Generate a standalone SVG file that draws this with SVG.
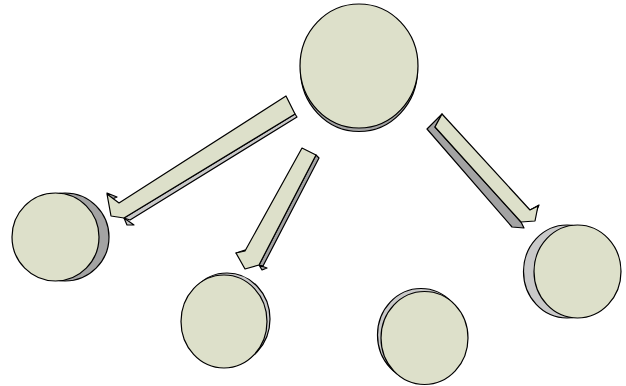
<svg xmlns="http://www.w3.org/2000/svg" width="626" height="386" viewBox="0 0 626 386">
<style>
.face{fill:#dde0ca;stroke:#000;stroke-width:1.2;stroke-linejoin:round}
.sd{stroke:#000;stroke-width:1.2;stroke-linejoin:round}
.g1{fill:#a3a3a3}
.g2{fill:#c9c9c9}
</style>
<rect width="626" height="386" fill="#fff"/>
<g id="node-top">
<ellipse class="sd g1" cx="359" cy="69.5" rx="58.5" ry="62"/>
<ellipse class="face" cx="359" cy="66" rx="59" ry="62"/>
</g>
<g id="node-left">
<ellipse class="sd g1" cx="65" cy="237" rx="44" ry="44"/>
<ellipse class="face" cx="55.5" cy="237" rx="43.5" ry="44"/>
</g>
<g id="node-bottom-left">
<ellipse class="sd g2" cx="227" cy="319" rx="43" ry="46"/>
<ellipse class="face" cx="224" cy="321.5" rx="43" ry="46.5"/>
</g>
<g id="node-bottom-mid">
<ellipse class="sd g2" cx="421" cy="335" rx="43.5" ry="46.5"/>
<ellipse class="face" cx="424.5" cy="338" rx="43.5" ry="46.5"/>
</g>
<g id="node-right">
<ellipse class="sd g2" cx="567" cy="271.5" rx="43.5" ry="46.5"/>
<ellipse class="face" cx="577.5" cy="271.5" rx="43.5" ry="46.5"/>
</g>
<g id="connectors">
<g id="arrow-left">
<polygon class="sd g2" points="295,114 297,117 130,220 124,218"/>
<polygon class="sd g2" points="124,218 134,225 127,225"/>
<polygon class="sd g1" points="107,193 117,197 110,200"/>
<polygon class="face" points="286,96 295,114 124,218 111,216 107,194 119,203"/>
</g>
<g id="arrow-mid">
<polygon class="sd g1" points="316,155 319,158 263,266 259,265"/>
<polygon class="sd g1" points="259,265 267,268 262,270"/>
<polygon class="sd g1" points="236,253 245,250 242,256"/>
<polygon class="face" points="302,148 316,155 259,265 245,269 236,253 245,251"/>
</g>
<g id="arrow-right">
<polygon class="sd g1" points="442,114 435,127 521,222 524,228 512,227 427,129"/>
<polygon class="sd g1" points="530,210 539,205 536,212"/>
<polygon class="face" points="442,114 530,210 538,206 535,221 521,222 435,127"/>
</g>
</g>
</svg>
